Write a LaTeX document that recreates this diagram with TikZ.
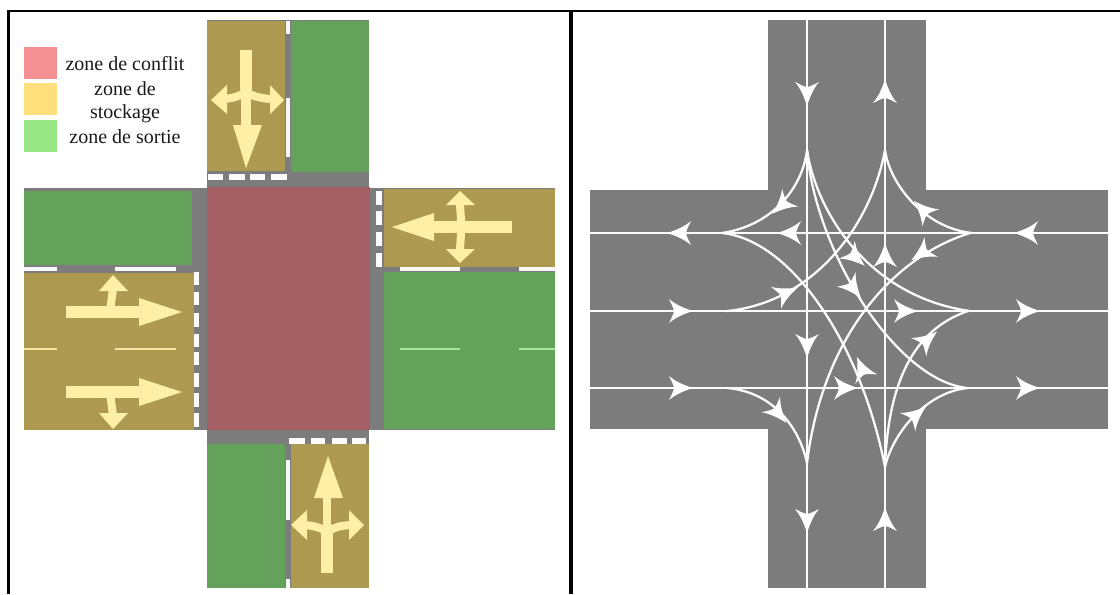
\documentclass[tikz,border=0pt]{standalone}
\usepackage{fontspec}
\setmainfont{Liberation Serif}
\definecolor{ocre}{HTML}{AD9A50}
\definecolor{vert}{HTML}{64A25C}
\definecolor{rouge}{HTML}{A56066}
\definecolor{gris}{HTML}{7C7C7C}
\definecolor{creme}{HTML}{FDEFA6}
\definecolor{legrouge}{HTML}{F49092}
\definecolor{legjaune}{HTML}{FDE07C}
\definecolor{legvert}{HTML}{97E585}
\definecolor{vertclair}{HTML}{A6E59A}
\definecolor{jauneclair}{HTML}{F5E3A0}
\tikzset{
  x=0.75pt,y=-0.75pt,
  whitedash/.style={draw=white!95!gray,line width=2.6pt},
  stopdash/.style={draw=white!97!gray,line width=3.9pt},
  shaft/.style={draw=creme,line width=9.5pt},
  twig/.style={draw=creme,line width=6pt},
  head/.style={fill=creme},
  flow/.style={draw=white!97!gray,line width=1.7pt},
  legtext/.style={font=\fontsize{15pt}{17pt}\selectfont,text=black!90,inner sep=0pt,anchor=center},
  pics/barb/.style={code={
    \fill[white] (13,0) .. controls (5,2.5) and (-4,6) .. (-11,12)
      .. controls (-8,6) and (-6.5,3) .. (-6,0)
      .. controls (-6.5,-3) and (-8,-6) .. (-11,-12)
      .. controls (-4,-6) and (5,-2.5) .. (13,0) -- cycle;
  }}
}
\begin{document}
\begin{tikzpicture}
\useasboundingbox (0,0) rectangle (1120,594);
% ---------- left panel: grey ground
\fill[gris] (207,20) rectangle (369,588);
\fill[gris] (24,188) rectangle (555,430);
% zones
\fill[ocre] (207,21) rectangle (285,171);
\fill[vert] (291,21) rectangle (369,172);
\fill[vert] (24,191) rectangle (192,265);
\fill[ocre] (24,273) rectangle (194,430);
\fill[rouge] (207,187) rectangle (370,430);
\fill[ocre] (384,189) rectangle (555,267);
\fill[vert] (384,272) rectangle (555,429);
\fill[vert] (207,444) rectangle (285,588);
\fill[ocre] (291,444) rectangle (369,588);
% road markings
\draw[whitedash] (288,21) -- (288,34);
\draw[whitedash] (288,98) -- (288,157);
\draw[whitedash] (288,460) -- (288,520);
\draw[whitedash] (288,579) -- (288,588);
\draw[whitedash] (24,269) -- (57,269);
\draw[whitedash] (115,269) -- (176,269);
\draw[whitedash] (400,269) -- (460,269);
\draw[whitedash] (519,269) -- (555,269);
\draw[draw=jauneclair,line width=2pt] (24,349) -- (57,349);
\draw[draw=jauneclair,line width=2pt] (115,349) -- (176,349);
\draw[draw=vertclair,line width=2pt] (400,349) -- (460,349);
\draw[draw=vertclair,line width=2pt] (519,349) -- (555,349);
\foreach \a/\b in {208/223,229/245,250/265,271/287}
  \draw[stopdash] (\a,177) -- (\b,177);
\foreach \a/\b in {289/305,311/325,332/347,352/366}
  \draw[stopdash] (\a,441) -- (\b,441);
\foreach \a/\b in {191/205,211/225,232/246,253/267}
  \draw[stopdash] (379,\a) -- (379,\b);
\foreach \a/\b in {272/285,292/305,313/327,334/347,352/365,373/387,393/407,413/427}
  \draw[stopdash] (196.5,\a) -- (196.5,\b);
% yellow arrows: north approach
\draw[twig] (246,92) .. controls (240,96) and (234,98) .. (224,99);
\draw[twig] (246,92) .. controls (252,96) and (260,98) .. (270,99);
\draw[shaft] (246,50) -- (246,90);
\draw[draw=creme,line width=7pt] (246,88) -- (246,128);
\fill[head] (246,168) -- (233,125) -- (262,125) -- cycle;
\fill[head] (211,100) -- (227,85) -- (227,114) -- cycle;
\fill[head] (284,100) -- (270,85) -- (270,114) -- cycle;
% south approach
\draw[twig] (327,532) .. controls (320,527) and (314,526) .. (305,525);
\draw[twig] (327,532) .. controls (334,527) and (340,526) .. (350,525);
\draw[shaft] (327,573) -- (327,530);
\draw[draw=creme,line width=6.5pt] (327,532) -- (327,496);
\fill[head] (328,456) -- (314,498) -- (343,498) -- cycle;
\fill[head] (291,525) -- (307,510) -- (307,540) -- cycle;
\fill[head] (364,525) -- (349,510) -- (349,540) -- cycle;
% west approach
\draw[twig] (110,312) -- (113,288);
\draw[shaft] (66,312) -- (141,312);
\fill[head] (182,312) -- (139,298) -- (139,326) -- cycle;
\fill[head] (113,275) -- (99,291) -- (128,291) -- cycle;
\draw[twig] (110,392) -- (113,416);
\draw[shaft] (66,392) -- (141,392);
\fill[head] (182,392) -- (139,378) -- (139,406) -- cycle;
\fill[head] (113,429) -- (99,413) -- (128,413) -- cycle;
% east approach
\draw[twig] (460,227) .. controls (462,220) and (460,212) .. (460,203);
\draw[twig] (460,227) .. controls (462,234) and (460,242) .. (460,251);
\draw[shaft] (512,227) -- (432,227);
\fill[head] (392,227) -- (434,213) -- (434,241) -- cycle;
\fill[head] (460,191) -- (446,205) -- (475,205) -- cycle;
\fill[head] (460,263) -- (446,249) -- (475,249) -- cycle;
% legend
\fill[legrouge] (24,47) rectangle (57,79);
\fill[legjaune] (24,83) rectangle (57,115);
\fill[legvert] (24,120) rectangle (57,152);
\node[legtext] (l1) at (125,64) {zone de conflit};
\node[legtext] (l2) at (125,89) {zone de};
\node[legtext] (l3) at (125,114) {stockage};
\node[legtext] (l4) at (125,137) {zone de sortie};
% ---------- right panel: road
\fill[gris] (768,20) rectangle (926,588);
\fill[gris] (590,190) rectangle (1108,429);
% straight flows
\draw[flow] (807,20) -- (807,588);
\draw[flow] (885,20) -- (885,588);
\draw[flow] (590,233) -- (1108,233);
\draw[flow] (590,311) -- (1108,311);
\draw[flow] (590,388) -- (1108,388);
% curved flows
\draw[flow] (807,150) .. controls (803,185) and (775,225) .. (722,233);
\draw[flow] (885,150) .. controls (890,185) and (925,228) .. (972,233);
\draw[flow] (807,463) .. controls (800,430) and (775,392) .. (727,388);
\draw[flow] (885,467) .. controls (892,435) and (925,392) .. (968,388);
\draw[flow] (807,150) .. controls (818,220) and (875,298) .. (970,311);
\draw[flow] (807,150) .. controls (815,250) and (895,380) .. (967,388);
\draw[flow] (885,150) .. controls (870,230) and (810,303) .. (727,311);
\draw[flow] (970,233) .. controls (890,258) and (822,340) .. (807,463);
\draw[flow] (722,233) .. controls (790,240) and (860,340) .. (885,467);
\draw[flow] (885,467) .. controls (888,385) and (912,330) .. (968,311);
% arrowheads on straight flows
\foreach \xx/\yy in {807/93,807/345,807/520}
  \pic[rotate=-90] at (\xx,\yy) {barb};
\foreach \xx/\yy in {885/92,885/256,885/520}
  \pic[rotate=90] at (\xx,\yy) {barb};
\foreach \xx/\yy in {680/233,790/233,1027/233}
  \pic[rotate=180] at (\xx,\yy) {barb};
\foreach \xx/\yy in {680/311,905/311,1027/311,680/388,845/388,1027/388}
  \pic at (\xx,\yy) {barb};
% arrowheads on curved flows
\pic[rotate=222] at (782,205) {barb};
\pic[rotate=135] at (923,210) {barb};
\pic[rotate=-42] at (855,257) {barb};
\pic[rotate=-52] at (853,288) {barb};
\pic[rotate=25] at (786,293) {barb};
\pic[rotate=214] at (922,253) {barb};
\pic[rotate=40] at (927,340) {barb};
\pic[rotate=40] at (916,415) {barb};
\pic[rotate=113] at (862,369) {barb};
\pic[rotate=-50] at (778,413) {barb};
% ---------- frame
\draw[black,line width=2.2pt] (8.5,594) -- (8.5,11) -- (1120,11);
\draw[black,line width=2.6pt] (571,11) -- (571,594);
\end{tikzpicture}
\end{document}
